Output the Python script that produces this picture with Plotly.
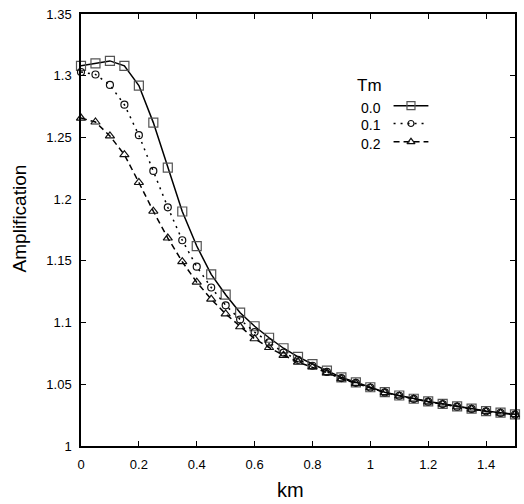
import plotly.graph_objects as go

km = [0.0, 0.05, 0.1, 0.15, 0.2, 0.25, 0.3, 0.35, 0.4, 0.45, 0.5, 0.55, 0.6, 0.65, 0.7,
      0.75, 0.8, 0.85, 0.9, 0.95, 1.0, 1.05, 1.1, 1.15, 1.2, 1.25, 1.3, 1.35, 1.4, 1.45, 1.5]

amp_tm00 = [1.308, 1.310, 1.312, 1.308, 1.292, 1.262, 1.2255, 1.190, 1.162, 1.139, 1.1226,
            1.108, 1.097, 1.0877, 1.0792, 1.0722, 1.0664, 1.061, 1.0556, 1.0516, 1.0476,
            1.0436, 1.0409, 1.0383, 1.0361, 1.0342, 1.0321, 1.0302, 1.0283, 1.027, 1.0257]

amp_tm01 = [1.303, 1.301, 1.2925, 1.2765, 1.2518, 1.2229, 1.1934, 1.1667, 1.1453, 1.1284, 1.114,
            1.1025, 1.0923, 1.0839, 1.0757, 1.0698, 1.0650, 1.0600, 1.0550, 1.0512, 1.0474,
            1.0434, 1.0407, 1.0381, 1.0359, 1.0340, 1.0319, 1.0300, 1.0281, 1.0268, 1.0255]

amp_tm02 = [1.2657, 1.2625, 1.2512, 1.236, 1.2135, 1.1902, 1.1685, 1.1493, 1.1327, 1.119, 1.107,
            1.0966, 1.0869, 1.0798, 1.0735, 1.0680, 1.0640, 1.0595, 1.0545, 1.0508, 1.0472,
            1.0433, 1.0406, 1.0380, 1.0358, 1.0339, 1.0318, 1.0299, 1.0280, 1.0267, 1.0254]

legend_title = "Tm"
legend_labels = ["0.0", "0.1", "0.2"]

x_ticks = [0, 0.2, 0.4, 0.6, 0.8, 1, 1.2, 1.4]
x_ticklabels = ["0", "0.2", "0.4", "0.6", "0.8", "1", "1.2", "1.4"]
y_ticks = [1, 1.05, 1.1, 1.15, 1.2, 1.25, 1.3, 1.35]
y_ticklabels = ["1", "1.05", "1.1", "1.15", "1.2", "1.25", "1.3", "1.35"]

FONT = "Liberation Sans, Arial, sans-serif"

styles = [
    dict(symbol="square-open", size=9, mcolor="#555555", dash="solid"),
    dict(symbol="circle-open", size=7, mcolor="#111111", dash="2px,5px"),
    dict(symbol="triangle-up-open", size=8, mcolor="#111111", dash="6px,4px"),
]
series = [amp_tm00, amp_tm01, amp_tm02]

fig = go.Figure()
for ys, st in zip(series, styles):
    fig.add_trace(go.Scatter(
        x=km, y=ys, mode="lines+markers",
        line=dict(color="black", width=1.5, dash=st["dash"]),
        marker=dict(symbol=st["symbol"], size=st["size"], color=st["mcolor"],
                    line=dict(width=1.2)),
        showlegend=False, cliponaxis=False,
    ))

# plot area in reference pixels: x 81..517, y 10..446
W = 436.0
def px(x):
    return (x - 81) / W
def py(y):
    return (446 - y) / W

leg_rows_y = [102.5, 120.5, 139]
for lab, ly, st in zip(legend_labels, leg_rows_y, styles):
    fig.add_trace(go.Scatter(
        x=[px(395), px(430)], y=[py(ly), py(ly)], mode="lines",
        line=dict(color="black", width=1.5, dash=st["dash"]),
        xaxis="x2", yaxis="y2", showlegend=False, hoverinfo="skip"))
    fig.add_trace(go.Scatter(
        x=[px(412.5)], y=[py(ly)], mode="markers",
        marker=dict(symbol=st["symbol"], size=st["size"] - 1, color=st["mcolor"],
                    line=dict(width=1.2)),
        xaxis="x2", yaxis="y2", showlegend=False, hoverinfo="skip"))
    fig.add_annotation(x=px(372), y=py(ly + 2), xref="paper", yref="paper",
                       xanchor="center", yanchor="middle",
                       text=lab, showarrow=False, font=dict(size=14, color="black", family=FONT))

fig.add_annotation(x=px(371), y=py(82), xref="paper", yref="paper",
                   xanchor="center", yanchor="middle",
                   text=legend_title, showarrow=False, font=dict(size=17, color="black", family=FONT))

fig.add_annotation(x=px(19), y=py(216), xref="paper", yref="paper",
                   xanchor="center", yanchor="middle", textangle=-90,
                   text="Amplification", showarrow=False, font=dict(size=19, color="black", family=FONT))
fig.add_annotation(x=px(291), y=py(490), xref="paper", yref="paper",
                   xanchor="center", yanchor="middle",
                   text="km", showarrow=False, font=dict(size=20, color="black", family=FONT))

axis_common = dict(
    showline=True, linecolor="black", linewidth=1.5, mirror="ticks",
    ticks="inside", ticklen=5, tickwidth=1.2, tickcolor="black",
    showgrid=False, zeroline=False,
    tickfont=dict(size=13, color="black", family=FONT),
)

fig.update_layout(
    width=524, height=504,
    margin=dict(l=81, r=7, t=10, b=58),
    plot_bgcolor="white", paper_bgcolor="white",
    font=dict(family=FONT, color="black"),
    xaxis=dict(range=[0, 1.5], tickvals=x_ticks, ticktext=x_ticklabels,
               ticklabelstandoff=6, **axis_common),
    yaxis=dict(range=[1, 1.35], tickvals=y_ticks, ticktext=y_ticklabels,
               ticklabelstandoff=5, **axis_common),
    xaxis2=dict(range=[0, 1], overlaying="x", visible=False, fixedrange=True),
    yaxis2=dict(range=[0, 1], overlaying="y", visible=False, fixedrange=True),
)

fig.write_html(
    "out.html",
    config={"displayModeBar": False},
    post_script="document.body.style.margin='0';document.body.style.overflow='hidden';",
)
